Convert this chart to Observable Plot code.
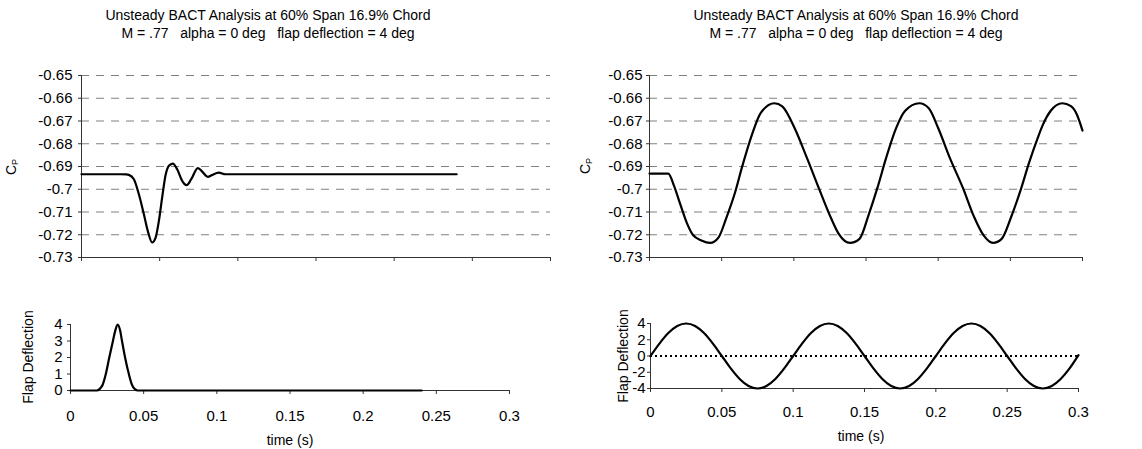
<!DOCTYPE html>
<html><head><meta charset="utf-8">
<script src="https://cdn.jsdelivr.net/npm/d3@7"></script>
<script src="https://cdn.jsdelivr.net/npm/@observablehq/plot@0.6"></script>
<style>
body{margin:0;background:#fff;}
#root{position:relative;width:1142px;height:449px;overflow:hidden;font-family:"Liberation Sans",Arial,sans-serif;color:#000;background:#fff;}
.panel{position:absolute;}
.title{position:absolute;text-align:center;font-size:14px;line-height:18px;white-space:nowrap;transform:translateX(-50%);}
.lab{position:absolute;font-size:14px;line-height:16px;white-space:nowrap;transform:translate(-50%,-50%);}
.rot{transform:translate(-50%,-50%) rotate(-90deg);}
sub{font-size:9px;vertical-align:-2px;}
</style></head>
<body><div id="root"></div>
<script>
// ---- data ----
const titleLine1 = "Unsteady BACT Analysis at 60% Span 16.9% Chord";
const titleLine2 = "M = .77\u00a0\u00a0\u00a0alpha = 0 deg\u00a0\u00a0\u00a0flap deflection = 4 deg";
const timeTicks = [0, 0.05, 0.1, 0.15, 0.2, 0.25, 0.3];
const timeTickLabels = ["0", "0.05", "0.1", "0.15", "0.2", "0.25", "0.3"];
const cpTicks = [-0.73, -0.72, -0.71, -0.7, -0.69, -0.68, -0.67, -0.66, -0.65];
const cpTickLabels = ["-0.73", "-0.72", "-0.71", "-0.7", "-0.69", "-0.68", "-0.67", "-0.66", "-0.65"];
const cpGrid = [-0.72, -0.71, -0.7, -0.69, -0.68, -0.67, -0.66, -0.65];
const flapLeftTicks = [0, 1, 2, 3, 4];
const flapLeftTickLabels = ["0", "1", "2", "3", "4"];
const flapRightTicks = [-4, -2, 0, 2, 4];
const flapRightTickLabels = ["-4", "-2", "0", "2", "4"];

// left: pulse response
const leftCpTime = [0, 0.025, 0.0285, 0.0303, 0.0335, 0.0367, 0.0399, 0.0424, 0.0452, 0.0473, 0.0495, 0.0516, 0.0537, 0.0559, 0.0584, 0.0612, 0.0644, 0.0672, 0.0702, 0.0744, 0.0778, 0.0808, 0.0836, 0.0878, 0.0921, 0.1, 0.24];
const leftCp     = [-0.6934, -0.6934, -0.6935, -0.6937, -0.6956, -0.7022, -0.7110, -0.7183, -0.7234, -0.7215, -0.7139, -0.7036, -0.6941, -0.6897, -0.6887, -0.6912, -0.6963, -0.6982, -0.6956, -0.6907, -0.6927, -0.6946, -0.6937, -0.6927, -0.6934, -0.6934, -0.6934];
const leftFlapTime = [0, 0.018, 0.020, 0.022, 0.024, 0.0265, 0.029, 0.0305, 0.0322, 0.034, 0.0352, 0.0373, 0.040, 0.042, 0.044, 0.046, 0.24];
const leftFlap     = [0, 0, 0.1, 0.35, 0.95, 2.0, 3.0, 3.6, 4.0, 3.6, 3.0, 2.0, 0.95, 0.35, 0.08, 0, 0];

// right: sinusoidal response
const rightCpTime = [0, 0.013, 0.017, 0.021, 0.026, 0.030, 0.036, 0.042, 0.048, 0.053, 0.059, 0.064, 0.071, 0.077, 0.0865, 0.092, 0.1005, 0.109, 0.118, 0.126, 0.131, 0.139, 0.1455, 0.152, 0.158, 0.164, 0.171, 0.177, 0.187, 0.1935, 0.2, 0.208, 0.217, 0.225, 0.2315, 0.238, 0.244, 0.2505, 0.257, 0.263, 0.269, 0.2725, 0.278, 0.286, 0.292, 0.296, 0.3];
const rightCp     = [-0.6931, -0.6931, -0.6985, -0.7060, -0.7150, -0.7200, -0.7225, -0.7236, -0.7210, -0.7130, -0.7020, -0.6905, -0.6760, -0.6665, -0.6622, -0.6636, -0.6731, -0.6861, -0.7006, -0.7130, -0.7195, -0.7236, -0.7218, -0.7109, -0.6992, -0.6861, -0.6729, -0.6656, -0.6622, -0.6644, -0.6731, -0.6861, -0.6992, -0.7123, -0.7203, -0.7236, -0.7218, -0.7123, -0.7006, -0.6883, -0.6774, -0.6717, -0.6655, -0.6622, -0.6635, -0.6670, -0.6742];
const rightFlapTime = [0, 0.00625, 0.0125, 0.01875, 0.025, 0.03125, 0.0375, 0.04375, 0.05, 0.05625, 0.0625, 0.06875, 0.075, 0.08125, 0.0875, 0.09375, 0.1, 0.10625, 0.1125, 0.11875, 0.125, 0.13125, 0.1375, 0.14375, 0.15, 0.15625, 0.1625, 0.16875, 0.175, 0.18125, 0.1875, 0.19375, 0.2, 0.20625, 0.2125, 0.21875, 0.225, 0.23125, 0.2375, 0.24375, 0.25, 0.25625, 0.2625, 0.26875, 0.275, 0.28125, 0.2875, 0.29375, 0.3];
const rightFlap     = [0, 1.53, 2.83, 3.7, 4, 3.7, 2.83, 1.53, 0, -1.53, -2.83, -3.7, -4, -3.7, -2.83, -1.53, 0, 1.53, 2.83, 3.7, 4, 3.7, 2.83, 1.53, 0, -1.53, -2.83, -3.7, -4, -3.7, -2.83, -1.53, 0, 1.53, 2.83, 3.7, 4, 3.7, 2.83, 1.53, 0, -1.53, -2.83, -3.7, -4, -3.7, -2.83, -1.53, 0.1];

// ---- layout helpers ----
const root = document.getElementById("root");
const FONT = "'Liberation Sans', Arial, sans-serif";
const AXIS = "#333";
const TICKFONT = 15;

function place(el, left, top) {
  el.classList.add("panel");
  el.style.left = left + "px";
  el.style.top = top + "px";
  root.appendChild(el);
}
function label(html, x, y, rotate) {
  const d = document.createElement("div");
  d.className = "lab" + (rotate ? " rot" : "");
  d.style.left = x + "px";
  d.style.top = y + "px";
  d.innerHTML = html;
  root.appendChild(d);
}
function title(cx) {
  const d = document.createElement("div");
  d.className = "title";
  d.style.left = cx + "px";
  d.style.top = "6px";
  d.textContent = titleLine1;
  d.appendChild(document.createElement("br"));
  d.appendChild(document.createTextNode(titleLine2));
  root.appendChild(d);
}
const rows = (t, v) => t.map((x, i) => ({t: x, v: v[i]}));
const fmt = (ticks, labels) => d => labels[ticks.indexOf(d)];

function cpPanel(times, values, ml, mr, pad) {
  return Plot.plot({
    width: 571, height: 215,
    marginLeft: ml, marginRight: mr, marginTop: 15, marginBottom: 18,
    x: {domain: [0, 0.3]},
    y: {domain: [-0.73, -0.65]},
    style: {fontFamily: FONT, fontSize: TICKFONT + "px", color: "#000", background: "transparent"},
    marks: [
      Plot.ruleY(cpGrid, {stroke: "#808080", strokeWidth: 1, strokeDasharray: "8,7"}),
      Plot.ruleX([0], {y1: -0.73, y2: -0.65, stroke: AXIS}),
      Plot.ruleY([-0.73], {stroke: AXIS}),
      Plot.axisY({ticks: cpTicks, tickSize: 3, tickPadding: pad, fontSize: TICKFONT, tickFormat: fmt(cpTicks, cpTickLabels), label: null, stroke: AXIS}),
      Plot.axisX({ticks: timeTicks, tickSize: 4, tickFormat: () => "", label: null, stroke: AXIS}),
      Plot.line(rows(times, values), {x: "t", y: "v", stroke: "#000", strokeWidth: 2.2, curve: "monotone-x"})
    ]
  });
}

function flapPanel(times, values, ml, mr, mt, mb, yDomain, yTicks, yLabels, pad, xpad, zeroDots) {
  return Plot.plot({
    width: 571, height: 169,
    marginLeft: ml, marginRight: mr, marginTop: mt, marginBottom: mb,
    x: {domain: [0, 0.3]},
    y: {domain: yDomain},
    style: {fontFamily: FONT, fontSize: TICKFONT + "px", color: "#000", background: "transparent"},
    marks: [
      Plot.ruleX([0], {y1: yDomain[0], y2: yDomain[1], stroke: AXIS}),
      Plot.ruleY([yDomain[0]], {stroke: AXIS}),
      zeroDots ? Plot.ruleY([0], {stroke: "#000", strokeWidth: 2, strokeDasharray: "2,3"}) : null,
      Plot.axisY({ticks: yTicks, tickSize: 3, tickPadding: pad, fontSize: TICKFONT, tickFormat: fmt(yTicks, yLabels), label: null, stroke: AXIS}),
      Plot.axisX({ticks: timeTicks, tickSize: 4, tickPadding: xpad, fontSize: TICKFONT, tickFormat: fmt(timeTicks, timeTickLabels), label: null, stroke: AXIS}),
      Plot.line(rows(times, values), {x: "t", y: "v", stroke: "#000", strokeWidth: 2.2, curve: "monotone-x"})
    ]
  });
}

// ---- left column ----
title(268);
place(cpPanel(leftCpTime, leftCp, 81, 21, 6), 0, 60);
label("C<sub>P</sub>", 12.5, 166.5, true);
place(flapPanel(leftFlapTime, leftFlap, 70, 62, 44, 59, [0, 4], flapLeftTicks, flapLeftTickLabels, 5, 16, false), 0, 280);
label("Flap Deflection", 27.5, 357, true);
label("time (s)", 290, 440, false);

// ---- right column ----
title(856);
place(cpPanel(rightCpTime, rightCp, 78, 60, 4), 571, 60);
label("C<sub>P</sub>", 587, 166, true);
place(flapPanel(rightFlapTime, rightFlap, 79, 64, 43, 61, [-4, 4], flapRightTicks, flapRightTickLabels, 2, 14, true), 571, 280);
label("Flap Deflection", 622.7, 356, true);
label("time (s)", 861, 436, false);
</script></body></html>
